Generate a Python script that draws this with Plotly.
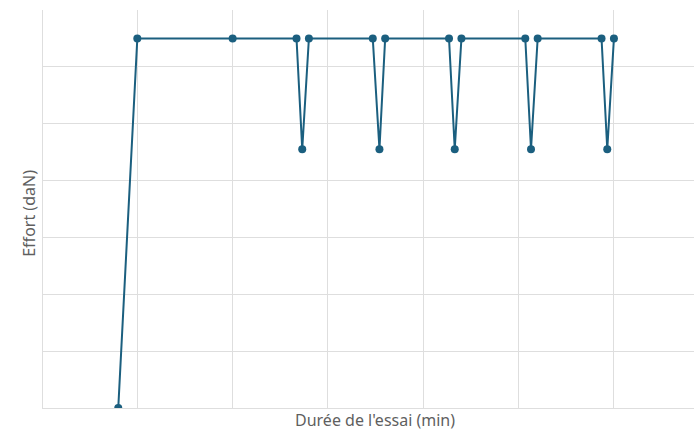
import plotly.graph_objects as go

# Effort mesuré au cours de l'essai (temps en unités de grille, effort en daN)
temps = [0.8, 1.0, 2.0, 2.67, 2.73, 2.8, 3.47, 3.54, 3.6,
         4.27, 4.33, 4.4, 5.07, 5.13, 5.2, 5.87, 5.93, 6.0]
effort = [0, 650, 650, 650, 455, 650, 650, 455, 650,
          650, 455, 650, 650, 455, 650, 650, 455, 650]

couleur = "#1b5f7f"
grille = "#dedede"

fig = go.Figure(
    go.Scatter(
        x=temps, y=effort, mode="lines+markers",
        line=dict(color=couleur, width=2),
        marker=dict(color=couleur, size=8),
        hoverinfo="skip",
    )
)

fig.update_layout(
    width=694, height=430,
    margin=dict(l=42, r=0, t=10, b=22),
    paper_bgcolor="white", plot_bgcolor="white",
    showlegend=False,
    font=dict(family="Noto Sans", color="#5f5f5f", size=16),
    annotations=[
        dict(text="Durée de l'essai (min)", xref="paper", yref="paper",
             x=0.511, y=0, yshift=-12, showarrow=False,
             xanchor="center", yanchor="middle",
             font=dict(size=16, color="#5f5f5f")),
        dict(text="Effort (daN)", xref="paper", yref="paper",
             x=0, xshift=-13, y=0.488, showarrow=False, textangle=-90,
             xanchor="center", yanchor="middle",
             font=dict(size=16, color="#5f5f5f")),
    ],
)
fig.update_xaxes(range=[0, 6.84], dtick=1, showticklabels=False,
                 showgrid=True, gridcolor=grille, gridwidth=1,
                 zeroline=True, zerolinecolor=grille, zerolinewidth=1,
                 showline=False, ticks="")
fig.update_yaxes(range=[0, 700], dtick=100, showticklabels=False,
                 showgrid=True, gridcolor=grille, gridwidth=1,
                 zeroline=True, zerolinecolor=grille, zerolinewidth=1,
                 showline=False, ticks="")

fig.write_html("out.html")
